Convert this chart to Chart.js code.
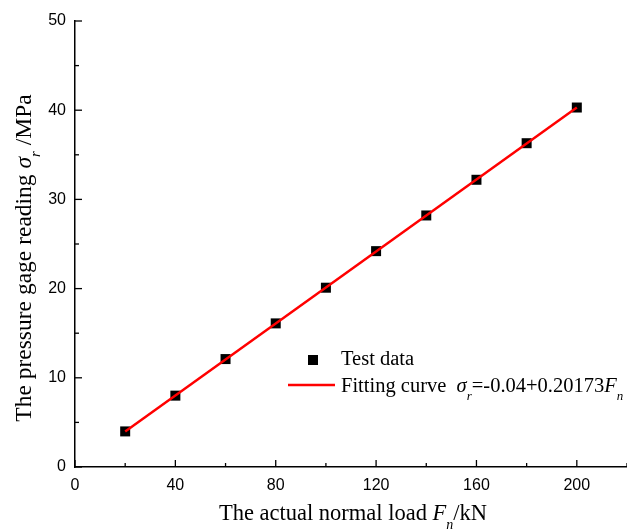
<!DOCTYPE html>
<html>
<head>
<meta charset="utf-8">
<script src="https://cdn.jsdelivr.net/npm/chart.js@4.4.1/dist/chart.umd.min.js"></script>
<style>
  html, body { margin: 0; padding: 0; background: #fff; }
  #wrap { width: 627px; height: 530px; }
</style>
</head>
<body>
<div id="wrap"><canvas id="chart" width="627" height="530"></canvas></div>
<script>
// test data
const loadKN = [20, 40, 60, 80, 100, 120, 140, 160, 180, 200];
const pressureMPa = [3.99, 8.0, 12.1, 16.1, 20.1, 24.2, 28.2, 32.2, 36.3, 40.3];

// fitting curve end points
const fitX = [20, 200];
const fitY = [3.99, 40.31];

const xTicks = [0, 40, 80, 120, 160, 200];
const yTicks = [0, 10, 20, 30, 40, 50];

const serif = '"Liberation Serif", "Times New Roman", serif';
const sans = '"Liberation Sans", Arial, sans-serif';

// draw text pieces: [text, kind] kind = n (normal), i (italic), s (italic subscript)
function setFont(ctx, kind, size) {
    if (kind === 'n') ctx.font = size + 'px ' + serif;
    else if (kind === 'i') ctx.font = 'italic ' + size + 'px ' + serif;
    else ctx.font = 'italic ' + Math.round(size * 0.62) + 'px ' + serif;
}
function richText(ctx, parts, x, y, size) {
    let cx = x;
    parts.forEach(p => {
        setFont(ctx, p[1], size);
        const dy = p[1] === 's' ? size * 0.4 : 0;
        ctx.fillText(p[0], cx, y + dy);
        cx += ctx.measureText(p[0]).width;
    });
    return cx - x;
}
function richWidth(ctx, parts, size) {
    let w = 0;
    parts.forEach(p => {
        setFont(ctx, p[1], size);
        w += ctx.measureText(p[0]).width;
    });
    return w;
}

const decor = {
    id: 'decor',
    afterDraw(chart) {
        const ctx = chart.ctx;
        const xs = chart.scales.x, ys = chart.scales.y;
        const a = chart.chartArea;
        ctx.save();
        ctx.strokeStyle = '#000';
        ctx.lineWidth = 1.3;
        // inward ticks
        for (let v = 0; v <= 220; v += 20) {
            const px = xs.getPixelForValue(v);
            const len = v % 40 === 0 ? 7 : 4;
            ctx.beginPath(); ctx.moveTo(px, a.bottom); ctx.lineTo(px, a.bottom - len); ctx.stroke();
        }
        for (let v = 0; v <= 50; v += 5) {
            const py = ys.getPixelForValue(v);
            const len = v % 10 === 0 ? 7 : 4;
            ctx.beginPath(); ctx.moveTo(a.left, py); ctx.lineTo(a.left + len, py); ctx.stroke();
        }

        ctx.fillStyle = '#000';
        ctx.textBaseline = 'alphabetic';
        ctx.textAlign = 'left';

        // x title
        const xt = [['The actual normal load ', 'n'], ['F', 'i'], ['n', 's'], ['/kN', 'n']];
        const xw = richWidth(ctx, xt, 22.5);
        richText(ctx, xt, 353 - xw / 2, 520, 22.5);

        // y title
        const yt = [['The pressure gage reading ', 'n'], ['\u03C3', 'i'], ['r', 's'], [' /MPa', 'n']];
        const yw = richWidth(ctx, yt, 23.5);
        ctx.save();
        ctx.translate(31, 258);
        ctx.rotate(-Math.PI / 2);
        richText(ctx, yt, -yw / 2, 0, 23.5);
        ctx.restore();

        // legend
        ctx.fillRect(308, 355, 10, 10);
        ctx.strokeStyle = '#ff0000';
        ctx.lineWidth = 2.5;
        ctx.beginPath(); ctx.moveTo(288, 385); ctx.lineTo(335, 385); ctx.stroke();
        ctx.fillStyle = '#000';
        richText(ctx, [['Test data', 'n']], 341, 365, 20.5);
        richText(ctx, [['Fitting curve  ', 'n'], ['\u03C3', 'i'], ['r', 's'], ['=-0.04+0.20173', 'n'], ['F', 'i'], ['n', 's']], 341, 392, 20.5);
        ctx.restore();
    }
};

new Chart(document.getElementById('chart'), {
    type: 'scatter',
    data: {
        datasets: [{
            label: 'Fitting curve',
            data: fitX.map((x, i) => ({ x: x, y: fitY[i] })),
            showLine: true,
            borderColor: '#ff0000',
            borderWidth: 2.5,
            pointRadius: 0,
            fill: false
        }, {
            label: 'Test data',
            data: loadKN.map((x, i) => ({ x: x, y: pressureMPa[i] })),
            pointStyle: 'rect',
            pointRadius: 7.07,
            backgroundColor: '#000',
            borderColor: '#000',
            borderWidth: 0
        }]
    },
    options: {
        responsive: false,
        animation: false,
        layout: { autoPadding: false, padding: { top: 21, right: 0, left: 0, bottom: 0 } },
        plugins: { legend: { display: false }, tooltip: { enabled: false } },
        scales: {
            x: {
                type: 'linear', min: 0, max: 220,
                afterBuildTicks: s => { s.ticks = xTicks.map(v => ({ value: v })); },
                afterFit: s => { s.height = 63; s.paddingRight = 0; s.paddingLeft = 0; },
                grid: { display: true, drawOnChartArea: false, drawTicks: false },
                border: { display: true, color: '#000', width: 1.5 },
                ticks: { color: '#000', padding: 9, font: { family: sans, size: 16 }, maxRotation: 0 }
            },
            y: {
                type: 'linear', min: 0, max: 50,
                afterBuildTicks: s => { s.ticks = yTicks.map(v => ({ value: v })); },
                afterFit: s => { s.width = 75; s.paddingTop = 0; s.paddingBottom = 0; },
                grid: { display: true, drawOnChartArea: false, drawTicks: false },
                border: { display: true, color: '#000', width: 1.5 },
                ticks: { color: '#000', padding: 9, font: { family: sans, size: 16 } }
            }
        }
    },
    plugins: [decor]
});
</script>
</body>
</html>
